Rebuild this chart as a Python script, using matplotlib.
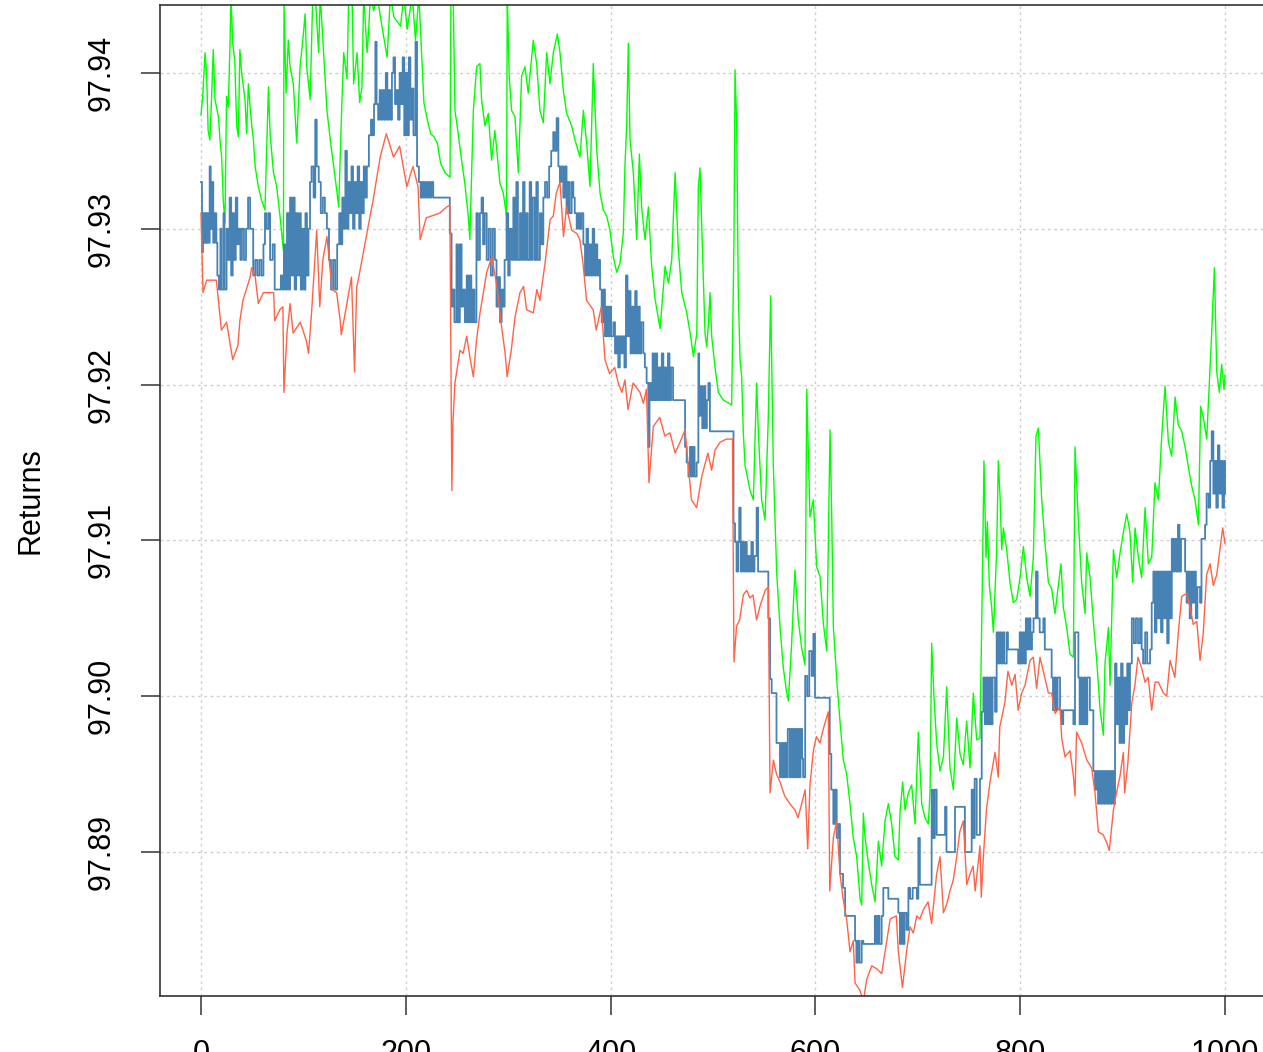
import matplotlib.pyplot as plt

green_pts = [
    (0, 97.9373), (1.7, 97.9385), (4, 97.9413), (5.5, 97.9400), (7, 97.9363), (8.7, 97.9357), (10.4, 97.9385),
    (12, 97.9415), (13.7, 97.9383), (17, 97.9372), (18.6, 97.9357), (20.2, 97.9346), (21.8, 97.9318), (23.4, 97.9304),
    (25, 97.9385), (26.7, 97.9378), (28.3, 97.9417), (29.3, 97.9450), (31, 97.9419), (33, 97.9408), (34.9, 97.9366),
    (36.5, 97.9359), (38, 97.9415), (39.7, 97.9400), (43, 97.9383), (44.6, 97.9361), (46.3, 97.9393), (48, 97.9378),
    (49.6, 97.9366), (51.2, 97.9357), (52.9, 97.9340), (56, 97.9327), (59.3, 97.9318), (62.5, 97.9312), (64.2, 97.9351),
    (65.9, 97.9391), (67.5, 97.9361), (70.8, 97.9336), (74, 97.9327), (77.2, 97.9308), (80.5, 97.9286), (81.1, 97.9445),
    (83.1, 97.9387), (85.3, 97.9421), (87, 97.9404), (90.2, 97.9393), (93.5, 97.9355), (96.8, 97.9404), (100, 97.9425),
    (101.7, 97.9438), (103.3, 97.9404), (106.6, 97.9383), (109.2, 97.9450), (111.6, 97.9450), (114.9, 97.9413),
    (116.5, 97.9450), (119.8, 97.9413), (123, 97.9376), (126.3, 97.9357), (129.6, 97.9340), (132.9, 97.9323),
    (134.5, 97.9314), (137.7, 97.9383), (139.4, 97.9413), (142.6, 97.9396), (144.3, 97.9450), (147.5, 97.9450),
    (149.1, 97.9393), (152.4, 97.9413), (155, 97.9381), (157.2, 97.9391), (158.9, 97.9450), (162.2, 97.9413),
    (163.8, 97.9428), (165.4, 97.9450), (168.7, 97.9440), (172, 97.9450), (175.2, 97.9436), (178.5, 97.9423),
    (181.8, 97.9410), (185, 97.9450), (188.4, 97.9436), (194.9, 97.9430), (198.1, 97.9450), (201.4, 97.9428),
    (206.3, 97.9450), (209.5, 97.9421), (212.8, 97.9450), (217.7, 97.9381), (221, 97.9370), (224.3, 97.9361),
    (227.5, 97.9359), (230.8, 97.9355), (234, 97.9342), (238.3, 97.9336), (243.2, 97.9333), (244.1, 97.9450),
    (246.3, 97.9450), (248, 97.9376), (251.2, 97.9361), (254.5, 97.9344), (257.7, 97.9329), (261, 97.9308),
    (262.6, 97.9293), (264.3, 97.9336), (266, 97.9376), (269.2, 97.9404), (272.4, 97.9406), (274, 97.9383),
    (277.3, 97.9366), (280.6, 97.9374), (283.8, 97.9344), (287, 97.9363), (292, 97.9329), (295.2, 97.9323),
    (298.4, 97.9308), (299.1, 97.9450), (301, 97.9398), (303.3, 97.9376), (306.6, 97.9372), (309.9, 97.9336),
    (313.1, 97.9398), (316.4, 97.9404), (319.6, 97.9387), (324.5, 97.9421), (327.8, 97.9406), (331, 97.9376),
    (334.3, 97.9368), (337.6, 97.9413), (340.8, 97.9393), (344.1, 97.9413), (348, 97.9425), (350.6, 97.9413),
    (353.8, 97.9389), (357.1, 97.9374), (362, 97.9366), (365.2, 97.9357), (370.1, 97.9346), (373.4, 97.9376),
    (376.6, 97.9355), (379.9, 97.9327), (383.1, 97.9406), (386.4, 97.9351), (389.7, 97.9323), (392.9, 97.9312),
    (396.2, 97.9308), (399.4, 97.9299), (402.7, 97.9282), (406, 97.9272), (409.2, 97.9278), (412.4, 97.9297),
    (414, 97.9340), (415.7, 97.9366), (417.3, 97.9419), (419, 97.9357), (422.2, 97.9336), (425.5, 97.9293),
    (428.1, 97.9348), (430.3, 97.9314), (433.6, 97.9293), (436.9, 97.9314), (440.1, 97.9276), (443.4, 97.9255),
    (448.3, 97.9236), (453.2, 97.9276), (456.5, 97.9265), (459.7, 97.9280), (463, 97.9336), (466.2, 97.9286),
    (469.5, 97.9259), (474.4, 97.9246), (477.7, 97.9233), (480.9, 97.9218), (484.2, 97.9233), (485.7, 97.9327),
    (487.3, 97.9339), (489, 97.9301), (490.6, 97.9267), (492.2, 97.9233), (493.9, 97.9224), (495.5, 97.9239),
    (497.1, 97.9259), (498.7, 97.9231), (502, 97.9211), (505.2, 97.9195), (510.1, 97.9190), (518.2, 97.9187),
    (520.5, 97.9293), (521.5, 97.9402), (523.1, 97.9368), (524.7, 97.9259), (526.4, 97.9216), (528, 97.9205),
    (529.6, 97.9169), (531.3, 97.9148), (532.9, 97.9143), (536.2, 97.9132), (539.4, 97.9126), (542.6, 97.9201),
    (544.3, 97.9169), (547.5, 97.9126), (550.8, 97.9113), (554, 97.9179), (556.3, 97.9257), (558.9, 97.9148),
    (562.2, 97.9079), (565.4, 97.9045), (568.7, 97.9018), (572, 97.9002), (573.6, 97.8997), (576.8, 97.9034),
    (580, 97.9081), (583.3, 97.9049), (586.6, 97.9031), (589.8, 97.9020), (591.5, 97.9197), (594.7, 97.9115),
    (598, 97.9126), (601.2, 97.9083), (604.5, 97.9077), (607.7, 97.9047), (611, 97.9029), (614.3, 97.9171),
    (616, 97.9113), (617.5, 97.9045), (620.8, 97.9011), (624, 97.8984), (627.3, 97.8959), (630.5, 97.8950),
    (633.8, 97.8931), (637, 97.8909), (640.3, 97.8897), (643.6, 97.8870), (645.2, 97.8866), (646.8, 97.8925),
    (648.5, 97.8909), (651.7, 97.8893), (655, 97.8879), (658.2, 97.8868), (661.5, 97.8907), (664.7, 97.8891),
    (668, 97.8920), (671.2, 97.8931), (674.5, 97.8918), (677.7, 97.8897), (681, 97.8895), (682.6, 97.8925),
    (685.2, 97.8945), (687.5, 97.8927), (690.8, 97.8938), (694, 97.8943), (697.3, 97.8918), (700.5, 97.8977),
    (703.8, 97.8931), (707, 97.8922), (710.3, 97.8918), (712, 97.8940), (713.5, 97.9034), (715.8, 97.8999),
    (718.4, 97.8970), (721.7, 97.8952), (725, 97.8961), (728.2, 97.9006), (731.4, 97.8954), (734.7, 97.8940),
    (738, 97.8986), (741.2, 97.8963), (744.4, 97.8956), (747.7, 97.8984), (751, 97.8954), (754.2, 97.9002),
    (757.5, 97.8972), (760.7, 97.8973), (763, 97.9073), (764.6, 97.9151), (766.6, 97.9089), (767.9, 97.9112),
    (769.9, 97.9071), (772.1, 97.9057), (773.8, 97.9041), (777, 97.9094), (778.6, 97.9151), (780.3, 97.9128),
    (781.9, 97.9094), (783.5, 97.9108), (786.8, 97.9094), (790, 97.9073), (793.3, 97.9060), (796.5, 97.9062),
    (799.8, 97.9076), (803.1, 97.9096), (806.3, 97.9076), (809.6, 97.9064), (812.8, 97.9089), (815.4, 97.9167),
    (817.7, 97.9172), (821, 97.9126), (824.2, 97.9098), (827.5, 97.9073), (830.7, 97.9069), (834, 97.9053),
    (837.2, 97.9071), (839.8, 97.9085), (842.1, 97.9057), (845.4, 97.9044), (848.6, 97.9027), (851.9, 97.9025),
    (853.5, 97.9160), (856.8, 97.9112), (860, 97.9073), (863.3, 97.9053), (864.9, 97.9092), (868.2, 97.9076),
    (871.4, 97.9048), (874.7, 97.9023), (878, 97.8991), (881.2, 97.8975), (882.8, 97.9021), (886.1, 97.9044),
    (887.7, 97.9007), (891, 97.9094), (894.2, 97.9076), (897.5, 97.9092), (900.7, 97.9105), (904, 97.9117),
    (907.2, 97.9105), (909.8, 97.9073), (912.1, 97.9108), (915.4, 97.9089), (918.6, 97.9076), (921.9, 97.9121),
    (925.1, 97.9085), (928.4, 97.9089), (931.6, 97.9137), (934.9, 97.9126), (938.2, 97.9167), (941.4, 97.9199),
    (944.7, 97.9163), (947.9, 97.9154), (951.2, 97.9192), (954.4, 97.9174), (957.7, 97.9170), (961, 97.9160),
    (964.2, 97.9147), (967.4, 97.9135), (970.7, 97.9126), (974, 97.9110), (976.2, 97.9186), (978.8, 97.9179),
    (982.1, 97.9165), (984.7, 97.9202), (987, 97.9234), (989.6, 97.9275), (991.9, 97.9208), (994.5, 97.9195),
    (996.7, 97.9213), (999, 97.9197), (1000, 97.9206),
]

blue_pts = [
    (0, 97.9330), (1, 97.9285), (2, 97.9310), (3, 97.9291), (4, 97.9310), (5, 97.9291), (6, 97.9310), (7, 97.9291),
    (8.5, 97.9340), (9.5, 97.9300), (11, 97.9330), (12, 97.9291), (13.5, 97.9310), (15, 97.9291), (16, 97.9270),
    (17.5, 97.9261), (19, 97.9300), (20, 97.9261), (22, 97.9310), (23, 97.9261), (25, 97.9300), (26.5, 97.9280),
    (28, 97.9320), (29.5, 97.9270), (31, 97.9310), (32.5, 97.9280), (34, 97.9320), (35.5, 97.9290), (37, 97.9300),
    (38.5, 97.9280), (40, 97.9300), (42, 97.9280), (44, 97.9300), (46, 97.9320), (48, 97.9300), (51, 97.9270),
    (53, 97.9280), (55, 97.9270), (57, 97.9280), (59, 97.9270), (61, 97.9290), (62.5, 97.9310), (64, 97.9300),
    (66, 97.9310), (67.5, 97.9280), (70, 97.9290), (72, 97.9261), (78, 97.9270), (79.5, 97.9261), (81, 97.9290),
    (82.5, 97.9261), (84, 97.9310), (85.5, 97.9261), (87, 97.9320), (88.5, 97.9270), (90, 97.9320), (91.5, 97.9261),
    (93, 97.9310), (94.5, 97.9270), (96, 97.9310), (97.5, 97.9261), (99, 97.9300), (100.5, 97.9261), (102, 97.9310),
    (103.5, 97.9270), (105, 97.9300), (106.5, 97.9330), (108, 97.9340), (110, 97.9320), (111.6, 97.9370),
    (113, 97.9340), (115, 97.9330), (117, 97.9310), (119, 97.9320), (121, 97.9310), (123, 97.9300), (125, 97.9280),
    (127, 97.9261), (129, 97.9280), (131, 97.9261), (133, 97.9290), (135, 97.9310), (136.5, 97.9290), (138, 97.9320),
    (139.5, 97.9300), (141, 97.9350), (142.5, 97.9300), (144, 97.9330), (145.5, 97.9310), (147, 97.9340),
    (148.5, 97.9300), (150, 97.9330), (151.5, 97.9310), (153, 97.9340), (154.5, 97.9300), (156, 97.9330),
    (157.5, 97.9310), (159, 97.9340), (160.5, 97.9320), (162, 97.9340), (164, 97.9360), (166, 97.9370),
    (167.5, 97.9360), (169, 97.9380), (170.3, 97.9420), (171.5, 97.9380), (173, 97.9370), (174.5, 97.9389),
    (176, 97.9370), (177.5, 97.9389), (179, 97.9370), (180.5, 97.9400), (182, 97.9370), (183.5, 97.9389),
    (185, 97.9370), (186.5, 97.9400), (188, 97.9410), (189.5, 97.9380), (191, 97.9389), (192.5, 97.9370),
    (194, 97.9400), (195.5, 97.9380), (197, 97.9410), (198.5, 97.9360), (200, 97.9400), (201.5, 97.9360),
    (203, 97.9410), (204.5, 97.9370), (206, 97.9390), (207.5, 97.9360), (209.5, 97.9420), (211, 97.9340),
    (212.8, 97.9330), (214.5, 97.9320), (216, 97.9330), (217.5, 97.9320), (219, 97.9330), (220.5, 97.9320),
    (222, 97.9330), (223.5, 97.9320), (225, 97.9330), (226.8, 97.9320), (243, 97.9297), (244.7, 97.9250),
    (246, 97.9261), (247.5, 97.9240), (249.5, 97.9290), (251, 97.9240), (252.8, 97.9290), (254.5, 97.9250),
    (256, 97.9261), (257.7, 97.9240), (259.5, 97.9270), (261, 97.9240), (262.6, 97.9270), (264, 97.9240),
    (265.5, 97.9261), (267, 97.9240), (269, 97.9310), (270.5, 97.9280), (272.4, 97.9310), (274, 97.9320),
    (275.5, 97.9290), (277, 97.9310), (279, 97.9280), (281, 97.9300), (283, 97.9270), (285, 97.9300),
    (287, 97.9280), (288.6, 97.9250), (290.3, 97.9269), (292, 97.9240), (293.6, 97.9261), (295, 97.9250),
    (296.5, 97.9280), (298.4, 97.9310), (300, 97.9270), (301.5, 97.9300), (303.3, 97.9280), (305, 97.9320),
    (306.5, 97.9280), (308, 97.9330), (309.5, 97.9280), (311.5, 97.9310), (313, 97.9280), (314.5, 97.9330),
    (316, 97.9280), (317.5, 97.9310), (319, 97.9280), (321, 97.9330), (322.5, 97.9280), (324, 97.9320),
    (326, 97.9280), (327.5, 97.9330), (329, 97.9280), (331, 97.9310), (332.5, 97.9290), (334.3, 97.9320),
    (336, 97.9330), (338, 97.9320), (340, 97.9340), (342, 97.9350), (344, 97.9362), (345.5, 97.9350),
    (347.3, 97.9371), (349, 97.9340), (350.5, 97.9330), (352, 97.9340), (353.8, 97.9320), (355.5, 97.9340),
    (357, 97.9310), (358.5, 97.9330), (360, 97.9310), (362, 97.9330), (363.6, 97.9320), (365, 97.9310),
    (366.9, 97.9300), (368.5, 97.9310), (370, 97.9300), (371.5, 97.9310), (373.4, 97.9290), (375, 97.9270),
    (376.5, 97.9300), (378, 97.9270), (379.5, 97.9290), (381, 97.9270), (382.5, 97.9300), (384, 97.9270),
    (385.5, 97.9290), (387, 97.9270), (388.5, 97.9280), (389.7, 97.9261), (391.3, 97.9240), (393, 97.9261),
    (394.5, 97.9231), (396, 97.9250), (397.5, 97.9231), (399, 97.9250), (400.5, 97.9231), (402.7, 97.9240),
    (404.3, 97.9220), (406, 97.9231), (407.5, 97.9211), (409, 97.9231), (410.5, 97.9220), (412, 97.9231),
    (413.5, 97.9211), (415, 97.9270), (416.5, 97.9231), (418, 97.9260), (419.5, 97.9220), (421, 97.9250),
    (422.5, 97.9220), (424, 97.9260), (425.5, 97.9220), (427, 97.9250), (428.5, 97.9220), (430, 97.9240),
    (432, 97.9220), (433.5, 97.9211), (435.2, 97.9201), (436.8, 97.9160), (438, 97.9201), (439.5, 97.9190),
    (441, 97.9220), (442.5, 97.9190), (444, 97.9220), (445.5, 97.9190), (447, 97.9211), (448.5, 97.9190),
    (450, 97.9220), (451.5, 97.9190), (453, 97.9211), (454.5, 97.9190), (456, 97.9220), (457.5, 97.9190),
    (459, 97.9211), (461, 97.9190), (472.7, 97.9160), (474.3, 97.9150), (476, 97.9141), (477.5, 97.9160),
    (479, 97.9141), (480.5, 97.9160), (482, 97.9141), (484, 97.9150), (485.7, 97.9220), (486.5, 97.9180),
    (488, 97.9199), (489.5, 97.9172), (491, 97.9199), (492.5, 97.9172), (494, 97.9190), (495.5, 97.9201),
    (497, 97.9170), (520, 97.9111), (521.5, 97.9099), (523, 97.9080), (524.5, 97.9099), (525.6, 97.9121),
    (527, 97.9080), (528.5, 97.9099), (530, 97.9080), (531.5, 97.9099), (533, 97.9080), (534.5, 97.9090),
    (536, 97.9080), (537.5, 97.9099), (539, 97.9080), (540.5, 97.9090), (542.6, 97.9121), (544, 97.9080),
    (554, 97.9050), (555.7, 97.9011), (557.3, 97.9002), (562, 97.8970), (565.4, 97.8948), (567, 97.8970),
    (568.5, 97.8948), (570, 97.8970), (571.5, 97.8948), (573, 97.8979), (575, 97.8948), (576.5, 97.8979),
    (578, 97.8948), (579.5, 97.8979), (581, 97.8948), (582.5, 97.8979), (584, 97.8948), (585.5, 97.8979),
    (587, 97.8960), (588, 97.8948), (590, 97.9013), (592, 97.9000), (594, 97.9029), (596.3, 97.9013),
    (598, 97.9040), (599.6, 97.8999), (614, 97.8963), (615.5, 97.8940), (617.5, 97.8918), (619, 97.8940),
    (620.8, 97.8909), (622.5, 97.8918), (624, 97.8886), (627, 97.8877), (629, 97.8859), (638.7, 97.8843),
    (640, 97.8829), (641.5, 97.8843), (643, 97.8829), (645.2, 97.8843), (646.8, 97.8841), (658, 97.8859),
    (659.5, 97.8841), (661, 97.8859), (662.5, 97.8841), (664.7, 97.8859), (666.3, 97.8877), (671.2, 97.8870),
    (681, 97.8861), (682.5, 97.8841), (684, 97.8861), (685.5, 97.8841), (687, 97.8861), (689, 97.8850),
    (690.8, 97.8877), (692.5, 97.8870), (695, 97.8877), (699, 97.8870), (700.5, 97.8909), (702, 97.8879),
    (713.5, 97.8940), (715, 97.8909), (716.5, 97.8940), (718.4, 97.8911), (726.6, 97.8929), (728, 97.8900),
    (736.3, 97.8929), (746, 97.8900), (752.6, 97.8940), (754, 97.8909), (755.5, 97.8947), (757.5, 97.8911),
    (760.7, 97.8947), (762.4, 97.8990), (764, 97.9012), (765.5, 97.8982), (767, 97.9012), (768.5, 97.8982),
    (770, 97.9012), (771.5, 97.8982), (773, 97.9012), (775.4, 97.8990), (777, 97.9041), (778.5, 97.9021),
    (780, 97.9041), (781.5, 97.9021), (783, 97.9041), (784.5, 97.9021), (786.8, 97.9041), (788, 97.9030),
    (798, 97.9021), (799.5, 97.9041), (801, 97.9021), (802.5, 97.9041), (804, 97.9021), (805.5, 97.9050),
    (807, 97.9030), (808.5, 97.9050), (810, 97.9030), (811.5, 97.9041), (813, 97.9050), (815.4, 97.9080),
    (817, 97.9050), (819, 97.9041), (822.6, 97.9050), (824, 97.9030), (830.7, 97.9012), (832, 97.8991),
    (833.5, 97.9012), (835, 97.8991), (836.5, 97.9012), (838.9, 97.8991), (840.5, 97.8982), (842, 97.8991),
    (851.9, 97.8982), (853.5, 97.9041), (856.8, 97.9012), (858, 97.8982), (859.5, 97.9012), (861, 97.8982),
    (862.5, 97.9012), (864, 97.8982), (865.5, 97.9012), (868, 97.8991), (871.4, 97.8952), (873, 97.8940),
    (874.5, 97.8952), (876, 97.8931), (877.5, 97.8952), (879, 97.8931), (880.5, 97.8952), (882, 97.8931),
    (883.5, 97.8952), (885, 97.8931), (886.5, 97.8952), (888, 97.8931), (889.5, 97.8952), (891, 97.8931),
    (892.6, 97.9021), (894, 97.8982), (895.5, 97.9012), (897, 97.8970), (898.5, 97.9021), (900, 97.8970),
    (901.5, 97.9012), (903, 97.8982), (904.5, 97.9021), (906, 97.8991), (907.2, 97.9021), (909, 97.9050),
    (911, 97.9034), (913, 97.9050), (915, 97.9034), (917, 97.9050), (918.6, 97.9030), (920, 97.9021),
    (922, 97.9041), (924, 97.9021), (926.8, 97.9030), (928.4, 97.9060), (930, 97.9080), (931.5, 97.9041),
    (933, 97.9080), (934.5, 97.9050), (936, 97.9080), (937.5, 97.9041), (939, 97.9080), (940.5, 97.9050),
    (942, 97.9080), (943.5, 97.9034), (945, 97.9080), (946.3, 97.9050), (948, 97.9101), (949.5, 97.9080),
    (951, 97.9101), (952.5, 97.9080), (954, 97.9110), (955.5, 97.9080), (957, 97.9101), (961, 97.9080),
    (962.5, 97.9060), (964, 97.9080), (965.5, 97.9050), (967, 97.9080), (968.5, 97.9060), (970, 97.9080),
    (971.5, 97.9050), (973, 97.9070), (975.6, 97.9060), (977, 97.9101), (980.5, 97.9110), (982, 97.9130),
    (984, 97.9121), (985.5, 97.9151), (987, 97.9170), (988.6, 97.9130), (990, 97.9151), (991.5, 97.9121),
    (993, 97.9161), (994.5, 97.9130), (996, 97.9151), (997.5, 97.9121), (999, 97.9151), (1000, 97.9130),
]

red_pts = [
    (0, 97.9310), (2, 97.9259), (5.5, 97.9267), (15, 97.9267), (17, 97.9254), (20, 97.9235), (25, 97.9240),
    (31, 97.9216), (36, 97.9225), (38, 97.9241), (41, 97.9254), (48, 97.9269), (49.5, 97.9275), (53, 97.9269),
    (56, 97.9252), (61, 97.9259), (71, 97.9259), (72, 97.9241), (77, 97.9248), (80, 97.9250), (81, 97.9195),
    (84, 97.9233), (87, 97.9252), (90, 97.9233), (97, 97.9240), (103, 97.9228), (105, 97.9220), (108, 97.9246),
    (113, 97.9299), (116, 97.9250), (119, 97.9280), (123, 97.9295), (128, 97.9261), (132.5, 97.9259),
    (136, 97.9241), (137, 97.9232), (142, 97.9250), (147, 97.9269), (150, 97.9208), (152, 97.9262),
    (155, 97.9272), (162, 97.9297), (168, 97.9318), (175, 97.9346), (181, 97.9361), (188, 97.9346),
    (194, 97.9353), (201, 97.9327), (207, 97.9340), (212, 97.9327), (214, 97.9293), (220, 97.9307),
    (233, 97.9310), (240, 97.9314), (243, 97.9315), (244, 97.9224), (245, 97.9132), (246, 97.9175),
    (248, 97.9201), (253, 97.9222), (256, 97.9220), (259.5, 97.9231), (263, 97.9216), (266, 97.9205),
    (269, 97.9228), (272.5, 97.9246), (279, 97.9272), (284, 97.9282), (289, 97.9263), (293.6, 97.9237),
    (297, 97.9220), (299, 97.9205), (303, 97.9222), (306.6, 97.9243), (311.5, 97.9259), (315, 97.9263),
    (318, 97.9248), (324.5, 97.9246), (328, 97.9261), (331, 97.9254), (336, 97.9278), (341, 97.9306),
    (344, 97.9308), (347, 97.9323), (350.6, 97.9330), (354, 97.9295), (357, 97.9314), (362, 97.9299),
    (367, 97.9297), (370, 97.9293), (373, 97.9278), (376.6, 97.9254), (383, 97.9248), (386, 97.9235),
    (391, 97.9250), (394.5, 97.9216), (399, 97.9207), (404, 97.9211), (407.5, 97.9201), (411, 97.9195),
    (414, 97.9203), (417, 97.9184), (422, 97.9201), (428.7, 97.9195), (432, 97.9188), (435, 97.9197),
    (437.5, 97.9137), (441.7, 97.9173), (448, 97.9179), (453, 97.9167), (458, 97.9169), (463, 97.9156),
    (467.8, 97.9163), (472.7, 97.9171), (476, 97.9147), (479, 97.9126), (484, 97.9121), (489, 97.9141),
    (495, 97.9156), (498.7, 97.9145), (502, 97.9158), (507, 97.9163), (513, 97.9165), (519, 97.9165),
    (520.5, 97.9022), (523, 97.9045), (526, 97.9049), (529.6, 97.9065), (533, 97.9068), (536, 97.9063),
    (539, 97.9065), (542.6, 97.9049), (546, 97.9058), (551, 97.9068), (554, 97.9070), (555.7, 97.8938),
    (559, 97.8959), (562, 97.8950), (565.4, 97.8945), (570, 97.8936), (575, 97.8931), (580, 97.8927),
    (583, 97.8922), (586.6, 97.8931), (590, 97.8940), (592.5, 97.8902), (594.7, 97.8943), (598, 97.8965),
    (601, 97.8974), (604.5, 97.8970), (607.7, 97.8979), (612.6, 97.8990), (614, 97.8875), (617.5, 97.8909),
    (620.8, 97.8920), (624, 97.8886), (627, 97.8870), (630.5, 97.8857), (633.8, 97.8836), (637, 97.8843),
    (638.7, 97.8816), (643.6, 97.8811), (646.8, 97.8804), (650, 97.8818), (655, 97.8827), (660, 97.8825),
    (664.7, 97.8822), (668, 97.8836), (673, 97.8857), (679, 97.8859), (681, 97.8836), (685, 97.8813),
    (689, 97.8836), (692.4, 97.8852), (695.6, 97.8848), (699, 97.8859), (702, 97.8857), (705.4, 97.8863),
    (710, 97.8868), (713.5, 97.8854), (718.4, 97.8886), (721.7, 97.8897), (725, 97.8861), (728, 97.8866),
    (731.4, 97.8875), (734.6, 97.8882), (738, 97.8897), (741, 97.8913), (744.4, 97.8920), (747.8, 97.8879),
    (751, 97.8886), (754, 97.8891), (756, 97.8875), (760.7, 97.8904), (762, 97.8871), (764, 97.8897),
    (767, 97.8927), (770.5, 97.8945), (775.4, 97.8964), (778.6, 97.8948), (780, 97.8980), (785, 97.8996),
    (788, 97.9016), (791.7, 97.9007), (795, 97.9014), (798, 97.8991), (801.4, 97.9002), (804.7, 97.9007),
    (809.6, 97.9023), (812.8, 97.9025), (816, 97.9005), (819.3, 97.9025), (824, 97.9012), (827.5, 97.9002),
    (830.7, 97.9002), (834, 97.8989), (838.9, 97.8993), (840.5, 97.8973), (843.75, 97.8961), (848.6, 97.8965),
    (851.9, 97.8949), (853.5, 97.8936), (855, 97.8977), (860, 97.8970), (865, 97.8959), (869.8, 97.8954),
    (873, 97.8938), (876.3, 97.8913), (881, 97.8911), (884.5, 97.8906), (887, 97.8901), (891, 97.8927),
    (894, 97.8938), (897.5, 97.8949), (900.7, 97.8964), (902, 97.8938), (905, 97.8956), (909, 97.8996),
    (912, 97.9007), (915, 97.9025), (918.6, 97.9018), (921.9, 97.9009), (925, 97.9012), (928.4, 97.8991),
    (931.6, 97.9009), (934.9, 97.9009), (939.8, 97.9002), (943, 97.9000), (946.3, 97.9023), (951, 97.9012),
    (954.4, 97.9041), (957.7, 97.9064), (962.6, 97.9066), (965.8, 97.9057), (969, 97.9046), (972.4, 97.9048),
    (975.6, 97.9023), (978.8, 97.9041), (982, 97.9078), (985.4, 97.9085), (988.6, 97.9071), (991.9, 97.9078),
    (995, 97.9094), (997.7, 97.9108), (1000, 97.9098),
]

x_ticks = [0, 200, 400, 600, 800, 1000]
y_ticks = [97.89, 97.90, 97.91, 97.92, 97.93, 97.94]

plt.rcParams['font.family'] = ['Liberation Sans', 'DejaVu Sans']

fig = plt.figure(figsize=(12.63, 10.52), dpi=100)
ax = fig.add_axes([160 / 1263, 56 / 1052, 1106 / 1263, 991 / 1052])

gx, gy = zip(*green_pts)
bx, by = zip(*blue_pts)
rx, ry = zip(*red_pts)

ax.plot(gx, gy, color='#00ff00', linewidth=1.0)
ax.plot(bx, by, color='steelblue', linewidth=1.3, drawstyle='steps-post')
ax.plot(rx, ry, color='tomato', linewidth=1.0)

ax.set_xlim(-40, 1040)
ax.set_ylim(97.88076, 97.94436)
ax.set_xticks(x_ticks)
ax.set_yticks(y_ticks)
ax.set_yticklabels([f'{v:.2f}' for v in y_ticks], rotation=90, va='center')
ax.grid(True, color='#cfcfcf', linestyle=(0, (2, 2.5)), linewidth=1.0)
ax.set_axisbelow(True)

ax.tick_params(axis='both', length=14, width=1.1, color='#333333', labelsize=22, pad=17)
for s in ax.spines.values():
    s.set_linewidth(1.2)
    s.set_color('#333333')

ax.set_ylabel('Returns', fontsize=22, labelpad=30)

plt.savefig('out.png', dpi=100)
